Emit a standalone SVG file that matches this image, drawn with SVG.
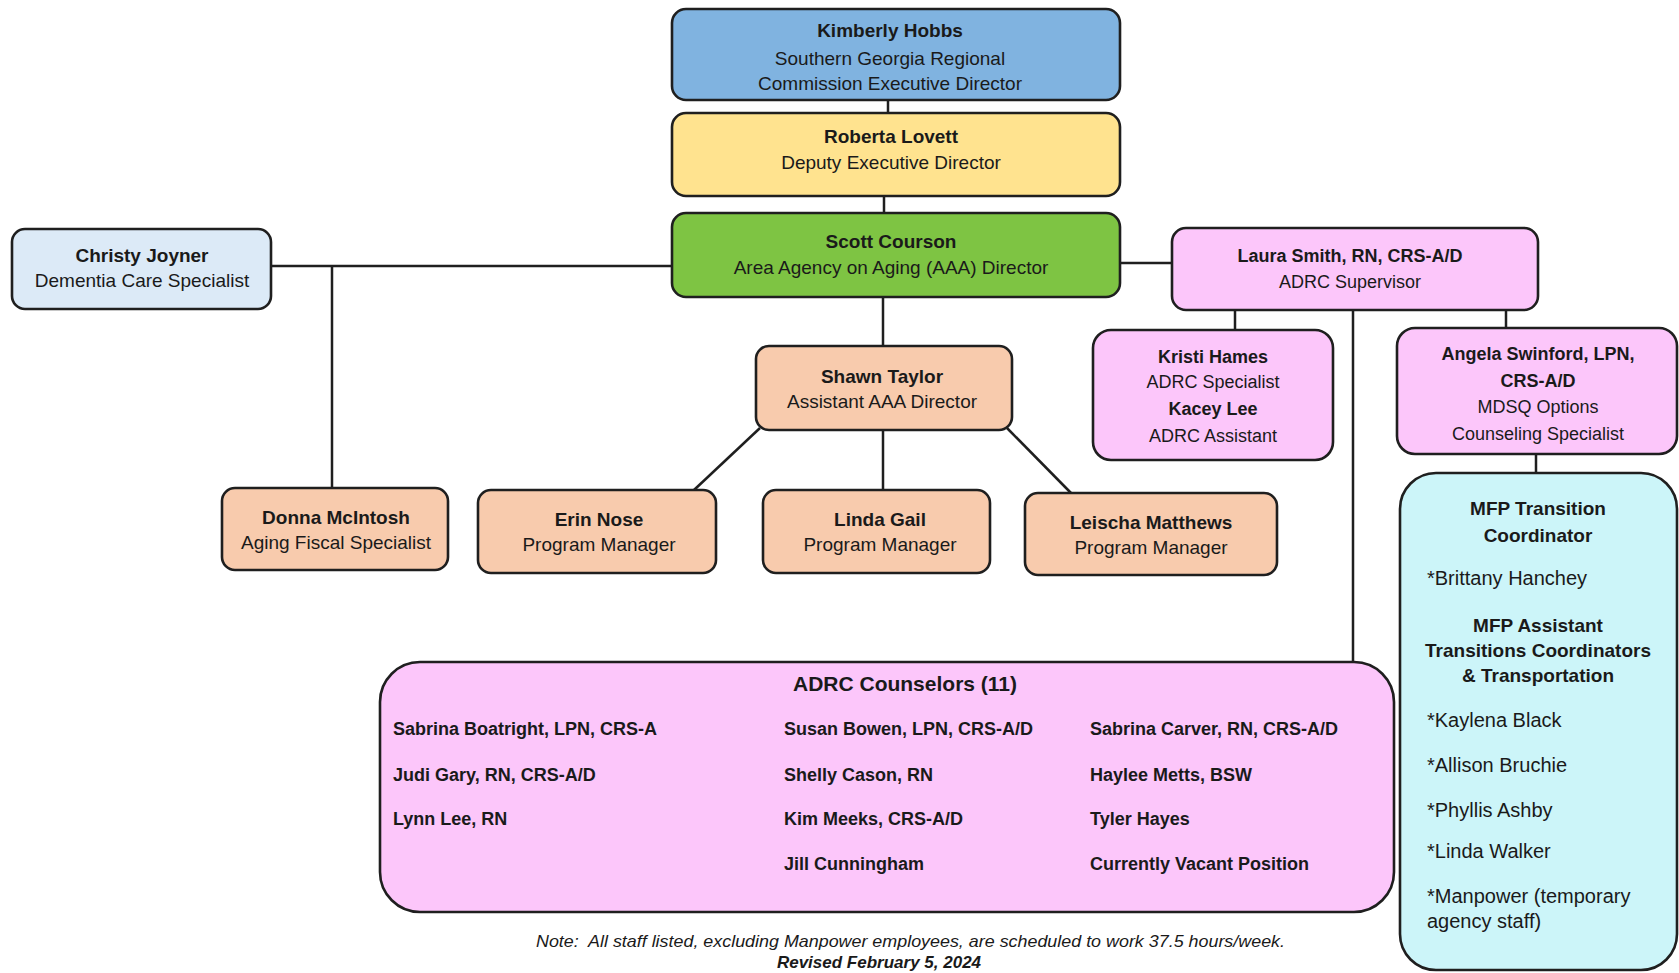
<svg xmlns="http://www.w3.org/2000/svg" width="1679" height="973" viewBox="0 0 1679 973">
<style>
.box{stroke:#1f1f1f;stroke-width:2.6}
.t{font-family:"Liberation Sans",Arial,sans-serif;font-size:19px;fill:#1a1a1a;text-anchor:middle}
.s{font-size:18px}
.m{font-size:20px}
.b{font-weight:bold}
.l{text-anchor:start}
.blue{fill:#80B3E0}.yellow{fill:#FFE38F}.green{fill:#7EC443}.lblue{fill:#DCEAF7}
.orange{fill:#F8CBAD}.pink{fill:#FCC6FA}.cyan{fill:#CCF5F9}
.c{stroke:#1f1f1f;stroke-width:2.5;fill:none}
</style>
<rect width="1679" height="973" fill="#ffffff"/>
<g id="connectors">
<line class="c" x1="888" y1="100" x2="888" y2="113"/>
<line class="c" x1="884" y1="196" x2="884" y2="213"/>
<line class="c" x1="271" y1="266" x2="672" y2="266"/>
<line class="c" x1="332" y1="266" x2="332" y2="488"/>
<line class="c" x1="1120" y1="263" x2="1172" y2="263"/>
<line class="c" x1="883" y1="297" x2="883" y2="346"/>
<line class="c" x1="760" y1="428" x2="694" y2="490"/>
<line class="c" x1="883" y1="430" x2="883" y2="490"/>
<line class="c" x1="1007" y1="428" x2="1071" y2="493"/>
<line class="c" x1="1235" y1="310" x2="1235" y2="330"/>
<line class="c" x1="1353" y1="310" x2="1353" y2="662"/>
<line class="c" x1="1506" y1="310" x2="1506" y2="328"/>
<line class="c" x1="1536" y1="454" x2="1536" y2="473"/>
</g>
<g id="kimberly">
<rect class="box blue" x="672" y="9" width="448" height="91" rx="14"/>
<text class="t b" x="890" y="37">Kimberly Hobbs</text>
<text class="t" x="890" y="65">Southern Georgia Regional</text>
<text class="t" x="890" y="90">Commission Executive Director</text>
</g>
<g id="roberta">
<rect class="box yellow" x="672" y="113" width="448" height="83" rx="14"/>
<text class="t b" x="891" y="143">Roberta Lovett</text>
<text class="t" x="891" y="169">Deputy Executive Director</text>
</g>
<g id="scott">
<rect class="box green" x="672" y="213" width="448" height="84" rx="14"/>
<text class="t b" x="891" y="248">Scott Courson</text>
<text class="t" x="891" y="274">Area Agency on Aging (AAA) Director</text>
</g>
<g id="christy">
<rect class="box lblue" x="12" y="229" width="259" height="80" rx="13"/>
<text class="t b" x="142" y="262">Christy Joyner</text>
<text class="t" x="142" y="287">Dementia Care Specialist</text>
</g>
<g id="donna">
<rect class="box orange" x="222" y="488" width="226" height="82" rx="13"/>
<text class="t b" x="336" y="524">Donna McIntosh</text>
<text class="t" x="336" y="549">Aging Fiscal Specialist</text>
</g>
<g id="shawn">
<rect class="box orange" x="756" y="346" width="256" height="84" rx="13"/>
<text class="t b" x="882" y="383">Shawn Taylor</text>
<text class="t" x="882" y="408">Assistant AAA Director</text>
</g>
<g id="erin">
<rect class="box orange" x="478" y="490" width="238" height="83" rx="13"/>
<text class="t b" x="599" y="526">Erin Nose</text>
<text class="t" x="599" y="551">Program Manager</text>
</g>
<g id="linda">
<rect class="box orange" x="763" y="490" width="227" height="83" rx="13"/>
<text class="t b" x="880" y="526">Linda Gail</text>
<text class="t" x="880" y="551">Program Manager</text>
</g>
<g id="leischa">
<rect class="box orange" x="1025" y="493" width="252" height="82" rx="13"/>
<text class="t b" x="1151" y="529">Leischa Matthews</text>
<text class="t" x="1151" y="554">Program Manager</text>
</g>
<g id="laura">
<rect class="box pink" x="1172" y="228" width="366" height="82" rx="14"/>
<text class="t s b" x="1350" y="262">Laura Smith, RN, CRS-A/D</text>
<text class="t s" x="1350" y="288">ADRC Supervisor</text>
</g>
<g id="kristi">
<rect class="box pink" x="1093" y="330" width="240" height="130" rx="18"/>
<text class="t s b" x="1213" y="363">Kristi Hames</text>
<text class="t s" x="1213" y="388">ADRC Specialist</text>
<text class="t s b" x="1213" y="415">Kacey Lee</text>
<text class="t s" x="1213" y="442">ADRC Assistant</text>
</g>
<g id="angela">
<rect class="box pink" x="1397" y="328" width="280" height="126" rx="18"/>
<text class="t s b" x="1538" y="360">Angela Swinford, LPN,</text>
<text class="t s b" x="1538" y="387">CRS-A/D</text>
<text class="t s" x="1538" y="413">MDSQ Options</text>
<text class="t s" x="1538" y="440">Counseling Specialist</text>
</g>
<g id="mfp">
<rect class="box cyan" x="1400" y="473" width="277" height="497" rx="36"/>
<text class="t b" x="1538" y="515">MFP Transition</text>
<text class="t b" x="1538" y="542">Coordinator</text>
<text class="t m l" x="1427" y="585">*Brittany Hanchey</text>
<text class="t b" x="1538" y="632">MFP Assistant</text>
<text class="t b" x="1538" y="657">Transitions Coordinators</text>
<text class="t b" x="1538" y="682">&amp; Transportation</text>
<text class="t m l" x="1427" y="727">*Kaylena Black</text>
<text class="t m l" x="1427" y="772">*Allison Bruchie</text>
<text class="t m l" x="1427" y="817">*Phyllis Ashby</text>
<text class="t m l" x="1427" y="858">*Linda Walker</text>
<text class="t m l" x="1427" y="903">*Manpower (temporary</text>
<text class="t m l" x="1427" y="928">agency staff)</text>
</g>
<g id="counselors">
<rect class="box pink" x="380" y="662" width="1014" height="250" rx="40"/>
<text class="t b" x="905" y="691" style="font-size:21px">ADRC Counselors (11)</text>
<text class="t s b l" x="393" y="735">Sabrina Boatright, LPN, CRS-A</text>
<text class="t s b l" x="393" y="781">Judi Gary, RN, CRS-A/D</text>
<text class="t s b l" x="393" y="825">Lynn Lee, RN</text>
<text class="t s b l" x="784" y="735">Susan Bowen, LPN, CRS-A/D</text>
<text class="t s b l" x="784" y="781">Shelly Cason, RN</text>
<text class="t s b l" x="784" y="825">Kim Meeks, CRS-A/D</text>
<text class="t s b l" x="784" y="870">Jill Cunningham</text>
<text class="t s b l" x="1090" y="735">Sabrina Carver, RN, CRS-A/D</text>
<text class="t s b l" x="1090" y="781">Haylee Metts, BSW</text>
<text class="t s b l" x="1090" y="825">Tyler Hayes</text>
<text class="t s b l" x="1090" y="870">Currently Vacant Position</text>
</g>
<g id="notes">
<text class="t l" x="536" y="947" style="font-size:17px;font-style:italic" textLength="749" lengthAdjust="spacingAndGlyphs">Note:&#160; All staff listed, excluding Manpower employees, are scheduled to work 37.5 hours/week.</text>
<text class="t b" x="879" y="968" style="font-size:17px;font-style:italic">Revised February 5, 2024</text>
</g>
</svg>
